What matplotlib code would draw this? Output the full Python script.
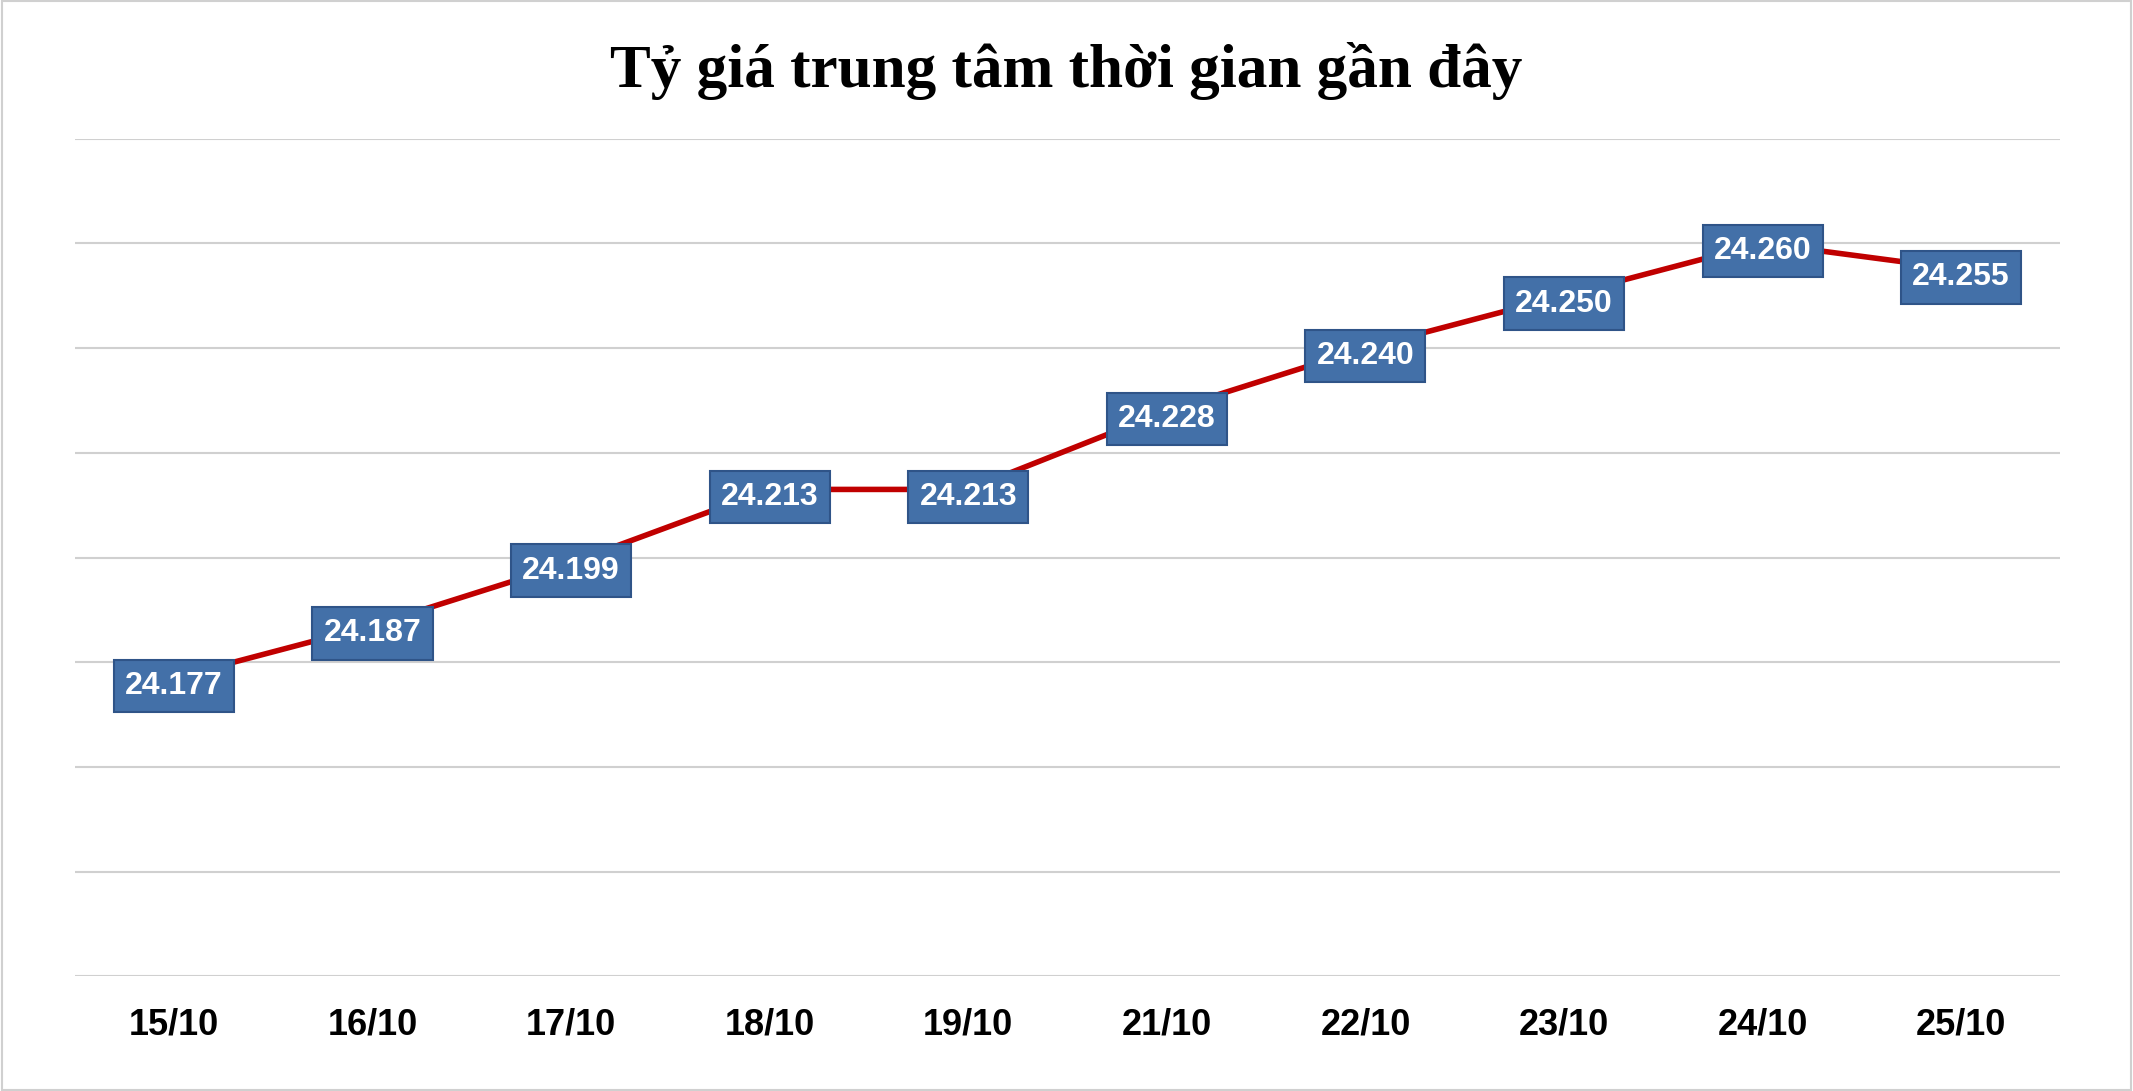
import matplotlib
matplotlib.use("Agg")
import matplotlib.pyplot as plt
from matplotlib.patches import Rectangle

dates = ["15/10", "16/10", "17/10", "18/10", "19/10", "21/10", "22/10", "23/10", "24/10", "25/10"]
values = [24.177, 24.187, 24.199, 24.213, 24.213, 24.228, 24.240, 24.250, 24.260, 24.255]
labels = ["24.177", "24.187", "24.199", "24.213", "24.213", "24.228", "24.240", "24.250", "24.260", "24.255"]

fig = plt.figure(figsize=(21.33, 10.91), dpi=100)
ax = fig.add_axes([0.035, 0.105, 0.931, 0.768])
fig.patches.append(Rectangle((0.001, 0.001), 0.998, 0.998, transform=fig.transFigure,
                             fill=False, edgecolor="#d0d0d0", linewidth=1.5))

x = list(range(len(dates)))
ax.plot(x, values, color="#c00000", linewidth=4, zorder=2)
ax.set_xlim(-0.5, len(dates) - 0.5)
ax.set_ylim(24.12, 24.28)
ax.set_yticks([24.12 + 0.02 * i for i in range(9)])
ax.yaxis.grid(True, color="#d0d0d0", linewidth=1.5)
ax.set_axisbelow(True)
ax.tick_params(axis="y", left=False, labelleft=False)
ax.tick_params(axis="x", length=0, pad=22)
ax.set_xticks(x)
ax.set_xticklabels(dates, fontsize=26, fontweight="bold", family="Liberation Sans")
for s in ax.spines.values():
    s.set_visible(False)

for xi, v, t in zip(x, values, labels):
    ax.text(xi, v - 0.0015, t, ha="center", va="center", fontsize=23, fontweight="bold",
            color="white", family="Liberation Sans", zorder=4,
            bbox=dict(boxstyle="square,pad=0.35", facecolor="#4370a8",
                      edgecolor="#2f5488", linewidth=1.5))

fig.text(0.5, 0.935, "Tỷ giá trung tâm thời gian gần đây", ha="center", va="center",
         fontsize=44, fontweight="bold", family="Liberation Serif")

fig.savefig("out.png", dpi=100)
